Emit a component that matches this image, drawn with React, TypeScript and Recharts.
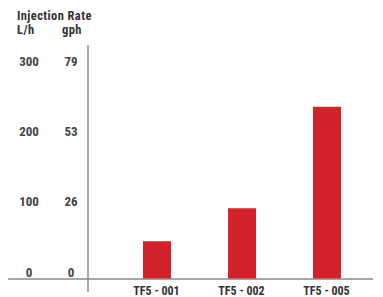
import React from "react";
import { Bar, BarChart, XAxis, YAxis } from "recharts";

const categories = ["TF5 - 001", "TF5 - 002", "TF5 - 005"];
const injectionRates = [54, 101, 246]; // L/h
const lhTicks = [0, 100, 200, 300];
const gphTicks = ["0", "26", "53", "79"];

const data = categories.map((name, i) => ({ name, rate: injectionRates[i] }));

const FONT = "'Liberation Sans Narrow', 'Roboto Condensed', Roboto, sans-serif";
const AXIS_COLOR = "#8a8a8a";
const BAR_COLOR = "#d2232a";

const MARGIN = { top: 45, right: 10, bottom: 0, left: 8 };
const Y_WIDTH = 80;
const AXIS_X = MARGIN.left + Y_WIDTH;

const YTick = (props: any) => {
  const { y, payload, index } = props;
  const ty = y - 7;
  return (
    <g>
      <text x={29} y={ty} dy="0.35em" textAnchor="middle" fontSize={13} fontWeight={700} fill="#444" fontFamily={FONT}>
        {payload.value}
      </text>
      <text x={71} y={ty} dy="0.35em" textAnchor="middle" fontSize={13} fontWeight={700} fill="#444" fontFamily={FONT}>
        {gphTicks[index]}
      </text>
      {payload.value === 0 && (
        <g stroke={AXIS_COLOR} strokeWidth={1.5}>
          <line x1={MARGIN.left} y1={y} x2={AXIS_X} y2={y} />
          <line x1={AXIS_X} y1={y} x2={AXIS_X} y2={y + 13} />
        </g>
      )}
    </g>
  );
};

const XTick = (props: any) => {
  const { x, y, payload } = props;
  return (
    <text x={x} y={y} dy="0.35em" textAnchor="middle" fontSize={12} fontWeight={700} fill="#333" fontFamily={FONT}>
      {payload.value}
    </text>
  );
};

export default function App() {
  return (
    <div style={{ position: "fixed", left: 0, top: 0, width: 383, height: 297, background: "#fff" }}>
      <div style={{ position: "absolute", left: 17, top: 9, fontFamily: FONT, fontWeight: 700, fontSize: 12.5, letterSpacing: 0.4, color: "#333", lineHeight: "13px" }}>
        <div>Injection Rate</div>
        <div style={{ display: "flex", marginTop: 1 }}>
          <span style={{ width: 45 }}>L/h</span>
          <span>gph</span>
        </div>
      </div>
      <BarChart width={383} height={297} data={data} margin={MARGIN}>
        <XAxis
          dataKey="name"
          height={18}
          tickLine={false}
          tickMargin={6}
          padding={{ left: 26, right: 4 }}
          axisLine={{ stroke: AXIS_COLOR, strokeWidth: 1.5 }}
          tick={<XTick />}
        />
        <YAxis
          width={Y_WIDTH}
          domain={[0, 334]}
          ticks={lhTicks}
          tickLine={false}
          axisLine={{ stroke: AXIS_COLOR, strokeWidth: 1.5 }}
          tick={<YTick />}
        />
        <Bar dataKey="rate" fill={BAR_COLOR} barSize={28} isAnimationActive={false} />
      </BarChart>
    </div>
  );
}
